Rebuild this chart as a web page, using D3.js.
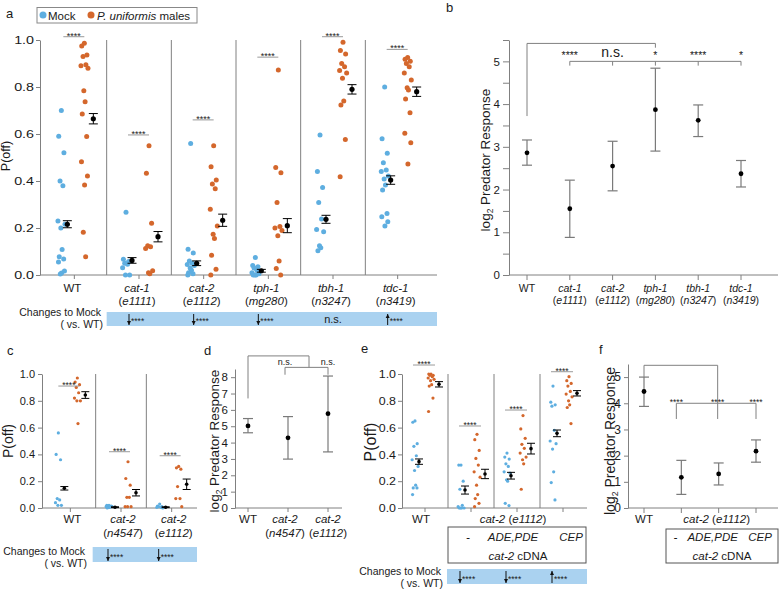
<!DOCTYPE html>
<html><head><meta charset="utf-8">
<script src="https://cdn.jsdelivr.net/npm/d3@7/dist/d3.min.js"></script>
<style>
html,body{margin:0;padding:0;background:#fff;}
svg{display:block;font-family:"Liberation Sans",Arial,Helvetica,sans-serif;}
</style></head><body>
<svg id="fig" width="780" height="591"></svg>
<script>
// ================= DATA =================
// ---- panel a : P(off) per genotype ----
const genesA   = ["WT","cat-1","cat-2","tph-1","tbh-1","tdc-1"];
const allelesA = ["","e1111","e1112","mg280","n3247","n3419"];
const mockA = [
  [0.70,0.59,0.52,0.40,0.38,0.23,0.216,0.20,0.108,0.078,0.068,0.055,0.017,0.009,0.004],
  [0.267,0.067,0.057,0.05,0.046,0.031,0.0,0.0],
  [0.56,0.11,0.094,0.06,0.05,0.045,0.04,0.03,0.02,0.01,0.005,0.0],
  [0.075,0.04,0.035,0.03,0.02,0.01,0.005,0.0,0.0,0.0],
  [0.596,0.44,0.372,0.309,0.238,0.194,0.184,0.125,0.116,0.103],
  [0.80,0.58,0.518,0.478,0.447,0.44,0.421,0.408,0.383,0.362,0.262,0.248,0.227,0.209]
];
const malesA = [
  [0.986,0.974,0.936,0.93,0.895,0.89,0.88,0.784,0.737,0.685,0.589,0.482,0.421,0.383,0.182,0.078],
  [0.55,0.433,0.22,0.125,0.12,0.113,0.018,0.01,0.005],
  [0.55,0.461,0.404,0.387,0.367,0.28,0.209,0.173,0.155,0.084,0.024,0.0],
  [0.872,0.457,0.435,0.308,0.206,0.2,0.189,0.167,0.06,0.028,0.0],
  [0.99,0.955,0.94,0.9,0.886,0.87,0.86,0.837,0.74,0.723,0.577,0.418],
  [0.926,0.918,0.91,0.9,0.886,0.86,0.83,0.797,0.787,0.749,0.69,0.603,0.563,0.472]
];
const mockMeanA = [0.216,0.062,0.05,0.018,0.237,0.404];
const mockSemA  = [0.015,0.012,0.01,0.006,0.017,0.018];
const maleMeanA = [0.665,0.163,0.233,0.21,0.79,0.78];
const maleSemA  = [0.022,0.022,0.026,0.03,0.02,0.02];
const sigYA     = [1.014,0.596,0.66,0.927,1.014,0.96];
const changeA   = ["","down","down","down","n.s.","up"];
const ticksP    = [0,0.2,0.4,0.6,0.8,1.0];

// ---- panel b : log2 predator response ----
const genesB   = ["WT","cat-1","cat-2","tph-1","tbh-1","tdc-1"];
const allelesB = ["","e1111","e1112","mg280","n3247","n3419"];
const meanB = [2.86,1.55,2.55,3.87,3.62,2.37];
const lowB  = [2.57,0.88,1.97,2.90,3.24,2.06];
const highB = [3.16,2.22,3.13,4.84,3.98,2.68];
const sigB  = ["","****","n.s.","*","****","*"];
const ticksB = [0,0.5,1,1.5,2,2.5,3,3.5,4,4.5,5,5.5];

// ---- panel c ----
const genesC   = ["WT","cat-2","cat-2"];
const allelesC = ["","n4547","e1112"];
const mockC = [
  [0.56,0.40,0.36,0.07,0.06,0.04,0.02,0.02],
  [0.02,0.02,0.015,0.015,0.01,0.01,0.01,0.005,0.005,0.0],
  [0.03,0.015,0.01,0.01,0.005,0.005,0.0]
];
const malesC = [
  [0.97,0.94,0.92,0.90,0.86,0.82,0.80,0.80,0.63],
  [0.345,0.22,0.17,0.08,0.08,0.01,0.01,0.01],
  [0.31,0.30,0.29,0.16,0.07,0.07,0.01]
];
const mockMeanC = [0.147,0.006,0.006];
const mockSemC  = [0.013,0.003,0.003];
const maleMeanC = [0.843,0.114,0.177];
const maleSemC  = [0.025,0.024,0.039];
const sigYC     = [0.91,0.42,0.39];
const changeC   = ["","down","down"];

// ---- panel d ----
const genesD   = ["WT","cat-2","cat-2"];
const allelesD = ["","n4547","e1112"];
const meanD = [5.02,4.29,5.77];
const lowD  = [4.60,2.99,3.43];
const highD = [5.47,5.59,8.07];
const ticksD = [0,1,2,3,4,5,6,7,8];

// ---- panel e ----
const rescueE = ["-","ADE,PDE","CEP"];
const mockE = [
  [0.65,0.64,0.48,0.46,0.39,0.36,0.31,0.28,0.17,0.15,0.15,0.10],
  [0.32,0.32,0.20,0.14,0.02,0.01,0.0,0.0,0.0,0.0],
  [0.41,0.38,0.365,0.33,0.31,0.27,0.26,0.21,0.20,0.035,0.018],
  [0.91,0.79,0.77,0.76,0.58,0.50,0.48,0.44,0.27,0.19,0.06]
];
const malesE = [
  [1.0,1.0,0.99,0.99,0.98,0.97,0.96,0.95,0.92,0.91,0.82,0.72],
  [0.55,0.51,0.43,0.37,0.32,0.27,0.23,0.17,0.10,0.07,0.035,0.01],
  [0.69,0.59,0.52,0.475,0.445,0.41,0.38,0.36,0.33,0.14],
  [0.98,0.95,0.93,0.91,0.87,0.85,0.83,0.80,0.77,0.75,0.63]
];
const mockMeanE = [0.346,0.134,0.241,0.557];
const mockSemE  = [0.02,0.03,0.025,0.025];
const maleMeanE = [0.923,0.254,0.443,0.856];
const maleSemE  = [0.02,0.035,0.04,0.02];
const sigYE     = [1.067,0.612,0.731,1.017];
const changeE   = ["","down","down","up"];

// ---- panel f ----
const meanF = [4.45,1.17,1.30,2.17];
const lowF  = [3.88,0.52,0.88,1.75];
const highF = [5.00,1.82,1.72,2.60];
const ticksF = [0,1,2,3,4,5];

// ================= STYLE =================
const BLUE="#5eaee0", ORANGE="#d4672c", BAND="#aad2f0", AXC="#808080", TXT="#1a1a1a", ERR="#7a7a7a", SIG="#9a9a9a";
const FONT='"Liberation Sans", Arial, Helvetica, sans-serif';
const JIT=[0,-1,1,-0.5,0.6,-1.3,1.4,-0.2,0.3,-0.8,0.9,-1.1,1.2,0.1,-0.4,0.5];
const svg = d3.select("#fig");

function txt(g,x,y,s,fs,anchor,style){
  return g.append("text").attr("x",x).attr("y",y).attr("font-size",fs).attr("fill",TXT)
    .attr("text-anchor",anchor||"start").attr("font-style",style||"normal").text(s);
}
function yAxis(g,y,x0,ticks,fmt,fs,tickLen,sx){
  const ax=g.append("g").attr("transform",`translate(${x0},0)`)
    .call(d3.axisLeft(y).tickValues(ticks).tickFormat(fmt).tickSize(tickLen).tickSizeOuter(0));
  ax.attr("font-family",FONT);
  ax.select(".domain").attr("stroke",AXC);
  ax.selectAll(".tick line").attr("stroke",AXC);
  const t=ax.selectAll(".tick text").attr("font-size",fs).attr("fill",TXT);
  if(sx){ t.attr("x",-(tickLen+2)/sx).attr("transform",`scale(${sx},1)`); }
  return ax;
}
function xBase(g,x0,x1,y0){
  g.append("line").attr("x1",x0).attr("x2",x1).attr("y1",y0).attr("y2",y0).attr("stroke",AXC);
}
function xTicks(g,xs,y0,len){
  g.append("g").selectAll("line").data(xs).join("line")
    .attr("x1",d=>d).attr("x2",d=>d).attr("y1",y0).attr("y2",y0+len).attr("stroke",AXC);
}
function geneLabel(g,x,y1,y2,gene,allele,fs){
  txt(g,x,y1,gene,fs,"middle",gene==="WT"?"normal":"italic");
  if(allele){
    const t=g.append("text").attr("x",x).attr("y",y2).attr("font-size",fs).attr("fill",TXT).attr("text-anchor","middle");
    t.append("tspan").text("(");
    t.append("tspan").attr("font-style","italic").text(allele);
    t.append("tspan").text(")");
  }
}
function rotLabel(g,x,y,fs,parts){
  const t=g.append("text").attr("transform",`translate(${x},${y}) rotate(-90)`)
    .attr("text-anchor","middle").attr("font-size",fs).attr("fill",TXT);
  parts(t,fs);
}
const pOff=(t)=>t.text("P(off)");
const logResp=(t,fs)=>{
  t.append("tspan").text("log");
  t.append("tspan").attr("font-size",fs*0.62).attr("dy",fs*0.22).text("2");
  t.append("tspan").attr("dy",-fs*0.22).text(" Predator Response");
};
function dotGroups(g,x,y,mocks,males,mM,mS,fM,fS,sigY,o){
  const c=i=>x(i)+x.bandwidth()/2;
  const dots=(sets,off,col)=>sets.forEach((arr,i)=>{
    g.append("g").selectAll("circle").data(arr).join("circle")
      .attr("cx",(d,j)=>c(i)+off+JIT[j%JIT.length]*o.j)
      .attr("cy",d=>y(d)).attr("r",o.r).attr("fill",col);
  });
  dots(mocks,o.mock,BLUE);
  dots(males,o.male,ORANGE);
  const means=(m,s,off)=>m.forEach((v,i)=>{
    const cx=c(i)+off, lo=y(Math.max(0,v-s[i])), hi=y(v+s[i]);
    g.append("line").attr("x1",cx).attr("x2",cx).attr("y1",lo).attr("y2",hi).attr("stroke","#000").attr("stroke-width",1);
    [lo,hi].forEach(yy=>g.append("line").attr("x1",cx-o.cap).attr("x2",cx+o.cap).attr("y1",yy).attr("y2",yy).attr("stroke","#000").attr("stroke-width",1));
    g.append("circle").attr("cx",cx).attr("cy",y(v)).attr("r",o.mr).attr("fill","#000");
  });
  means(mM,mS,o.mMean);
  means(fM,fS,o.fMean);
  sigY.forEach((v,i)=>{
    const yy=y(v);
    g.append("line").attr("x1",c(i)+o.sigL).attr("x2",c(i)+o.sigR).attr("y1",yy).attr("y2",yy).attr("stroke",SIG).attr("stroke-width",1);
    txt(g,c(i)+(o.sigL+o.sigR)/2,yy+1.8,"****",o.sf,"middle");
  });
  return c;
}
function changeBand(g,x0,x1,yTop,h,centers,dirs,labelX,labelY1,labelY2,off){
  g.append("rect").attr("x",x0).attr("y",yTop).attr("width",x1-x0).attr("height",h).attr("fill",BAND);
  txt(g,labelX,labelY1,"Changes to Mock",10.5,"end");
  txt(g,labelX+2,labelY2,"( vs. WT)",10.5,"end");
  dirs.forEach((d,i)=>{
    if(!d) return;
    const cx=centers[i];
    if(d==="n.s."){ txt(g,cx,yTop+h-3,"n.s.",11,"middle"); return; }
    const ax=cx+off, y1=yTop+2, y2=yTop+h-1;
    g.append("line").attr("x1",ax).attr("x2",ax).attr("y1",y1).attr("y2",y2).attr("stroke","#111").attr("stroke-width",1);
    const tip = d==="down"? y2 : y1, s = d==="down"? -1 : 1;
    g.append("path").attr("d",`M${ax-2},${tip+s*4}L${ax},${tip}L${ax+2},${tip+s*4}Z`).attr("fill","#111");
    txt(g,ax+2,yTop+h/2+5,"****",8.5,"start");
  });
}
function errPoints(g,xs,y,means,lows,highs,cap){
  means.forEach((m,i)=>{
    const cx=xs(i);
    g.append("line").attr("x1",cx).attr("x2",cx).attr("y1",y(lows[i])).attr("y2",y(highs[i])).attr("stroke",ERR).attr("stroke-width",1.2);
    [lows[i],highs[i]].forEach(v=>g.append("line").attr("x1",cx-cap).attr("x2",cx+cap).attr("y1",y(v)).attr("y2",y(v)).attr("stroke",ERR).attr("stroke-width",1.2));
    g.append("circle").attr("cx",cx).attr("cy",y(m)).attr("r",2.4).attr("fill","#000");
  });
}
function bracket(g,d){ g.append("path").attr("d",d).attr("fill","none").attr("stroke",AXC).attr("stroke-width",1); }

// ================= PANEL a =================
{
  const g=svg.append("g");
  const y=d3.scaleLinear().domain([0,1]).range([275,40]);
  const x=d3.scaleBand().domain(d3.range(genesA.length)).range([42,430]);
  const x0=40, xEnd=437;
  txt(g,6,18,"a",13);
  // legend
  g.append("rect").attr("x",37).attr("y",7.5).attr("width",160).attr("height",15.5).attr("fill","none").attr("stroke","#888");
  g.append("circle").attr("cx",43).attr("cy",15).attr("r",3.5).attr("fill",BLUE);
  txt(g,48,19.5,"Mock",11.5);
  g.append("circle").attr("cx",91).attr("cy",15).attr("r",3.5).attr("fill",ORANGE);
  const lt=g.append("text").attr("x",97).attr("y",19.5).attr("font-size",11.5).attr("fill",TXT);
  lt.append("tspan").attr("font-style","italic").text("P. uniformis");
  lt.append("tspan").text(" males");
  // dividers
  for(let i=1;i<genesA.length;i++) g.append("line").attr("x1",x(i)).attr("x2",x(i)).attr("y1",40).attr("y2",275).attr("stroke",AXC);
  yAxis(g,y,x0,ticksP,d3.format(".1f"),11,4,1.3);
  xBase(g,x0,xEnd,275);
  const centers=genesA.map((d,i)=>x(i)+x.bandwidth()/2);
  xTicks(g,centers,275,4);
  rotLabel(g,9.5,156,12.5,pOff);
  dotGroups(g,x,y,mockA,malesA,mockMeanA,mockSemA,maleMeanA,maleSemA,sigYA,
    {r:2.5,j:2.6,mock:-13,male:10,mMean:-7,fMean:19,cap:4.5,mr:2.6,sigL:-11,sigR:10,sf:9});
  genesA.forEach((gname,i)=>geneLabel(g,centers[i]-2,292,305,gname,allelesA[i],11.5));
  changeBand(g,x(1),xEnd,312,14,centers,changeA,101,315.5,327.5,-10);
}

// ================= PANEL b =================
{
  const g=svg.append("g");
  const y=d3.scaleLinear().domain([0,5.5]).range([275,40]);
  const x=d3.scalePoint().domain(d3.range(genesB.length)).range([527,741]);
  txt(g,446,12,"b",13);
  yAxis(g,y,509,ticksB,d=>Number.isInteger(d)?d:"",11.5,6);
  xBase(g,509,778,275);
  xTicks(g,genesB.map((d,i)=>x(i)),275,5);
  rotLabel(g,490,160,13.5,logResp);
  errPoints(g,x,y,meanB,lowB,highB,5);
  genesB.forEach((gname,i)=>geneLabel(g,x(i),292,304,gname,allelesB[i],10.5));
  // brackets
  bracket(g,`M${x(0)},${y(3.72)}V${y(5.42)}H${x(3)}V${y(5.32)}`);
  bracket(g,`M${x(1)},${y(4.9)}V${y(5.0)}H${x(5)}V${y(4.9)}`);
  [2,3,4].forEach(i=>bracket(g,`M${x(i)},${y(5.0)}V${y(4.9)}`));
  sigB.forEach((s,i)=>{
    if(!s) return;
    if(s==="n.s.") txt(g,x(i),57,s,14,"middle");
    else txt(g,x(i),59,s,10.5,"middle");
  });
}

// ================= PANEL c =================
{
  const g=svg.append("g");
  const y=d3.scaleLinear().domain([0,1]).range([508,374]);
  const x=d3.scaleBand().domain(d3.range(genesC.length)).range([45,197]);
  txt(g,7,355,"c",13);
  for(let i=1;i<genesC.length;i++) g.append("line").attr("x1",x(i)).attr("x2",x(i)).attr("y1",374).attr("y2",508).attr("stroke",AXC);
  yAxis(g,y,42,ticksP,d3.format(".1f"),11,4);
  xBase(g,42,197,508);
  const centers=genesC.map((d,i)=>x(i)+x.bandwidth()/2);
  xTicks(g,centers,508,4);
  rotLabel(g,12.5,441,14,pOff);
  dotGroups(g,x,y,mockC,malesC,mockMeanC,mockSemC,maleMeanC,maleSemC,sigYC,
    {r:1.6,j:2.2,mock:-12,male:7,mMean:-6,fMean:15,cap:4,mr:1.8,sigL:-12,sigR:9,sf:8.5});
  genesC.forEach((gname,i)=>geneLabel(g,centers[i]+2,523,537,gname,allelesC[i],11.5));
  changeBand(g,x(1)-3,197,547,15,centers,changeC,85,554.5,567,-13);
}

// ================= PANEL d =================
{
  const g=svg.append("g");
  const y=d3.scaleLinear().domain([0,8.5]).range([508,369]);
  const x=d3.scalePoint().domain(d3.range(genesD.length)).range([248,328]);
  txt(g,204,355,"d",13);
  yAxis(g,y,235,ticksD,d3.format("d"),11.5,4);
  xBase(g,235,342,508);
  xTicks(g,genesD.map((d,i)=>x(i)),508,4);
  rotLabel(g,219,441,13.5,logResp);
  errPoints(g,x,y,meanD,lowD,highD,5);
  genesD.forEach((gname,i)=>geneLabel(g,x(i)-(i===1?3:0),523,537,gname,allelesD[i],11.5));
  const xm=(x(1)+x(2))/2 + 1;
  bracket(g,`M${x(0)},${y(6.7)}V${y(9.3)}H${xm}V${y(8.6)}`);
  bracket(g,`M${x(1)-3},${y(8.15)}V${y(8.6)}H${x(2)}V${y(8.15)}`);
  txt(g,x(1)-3,y(8.6)-2.5,"n.s.",9,"middle");
  txt(g,x(2),y(8.6)-2.5,"n.s.",9,"middle");
}

// ================= PANEL e =================
{
  const g=svg.append("g");
  const y=d3.scaleLinear().domain([0,1]).range([508,374]);
  const x=d3.scaleBand().domain(d3.range(mockE.length)).range([402,586]);
  txt(g,361,353,"e",13);
  for(let i=1;i<mockE.length;i++) g.append("line").attr("x1",x(i)).attr("x2",x(i)).attr("y1",374).attr("y2",508).attr("stroke",AXC);
  yAxis(g,y,402,ticksP,d3.format(".1f"),11.5,4,1.08);
  xBase(g,402,587,508);
  const centers=mockE.map((d,i)=>x(i)+x.bandwidth()/2);
  xTicks(g,centers,508,4);
  rotLabel(g,376,442,16,pOff);
  dotGroups(g,x,y,mockE,malesE,mockMeanE,mockSemE,maleMeanE,maleSemE,sigYE,
    {r:1.6,j:2.2,mock:-10,male:6,mMean:-6,fMean:14,cap:4,mr:1.8,sigL:-12,sigR:10,sf:8.5});
  txt(g,centers[0]-4,523,"WT",11.5,"middle");
  const gx=(x(1)+586)/2-4;
  const lab=g.append("text").attr("x",gx).attr("y",523).attr("font-size",11.5).attr("fill",TXT).attr("text-anchor","middle");
  lab.append("tspan").attr("font-style","italic").text("cat-2");
  lab.append("tspan").text(" (");
  lab.append("tspan").attr("font-style","italic").text("e1112");
  lab.append("tspan").text(")");
  g.append("rect").attr("x",x(1)).attr("y",527).attr("width",586-x(1)).attr("height",36).attr("fill","none").attr("stroke","#555");
  rescueE.forEach((r,i)=>txt(g,centers[i+1]+(i===2?8:(i===0?-3:-4)),541,r,11.5,"middle","italic"));
  const cd=g.append("text").attr("x",gx+5).attr("y",560).attr("font-size",11.5).attr("fill",TXT).attr("text-anchor","middle");
  cd.append("tspan").attr("font-style","italic").text("cat-2");
  cd.append("tspan").text(" cDNA");
  changeBand(g,x(1)-1,587,569,15,centers,changeE,441,575,587,-11);
}

// ================= PANEL f =================
{
  const g=svg.append("g");
  const y=d3.scaleLinear().domain([0,5.5]).range([508,364]);
  const x=d3.scalePoint().domain(d3.range(meanF.length)).range([644,756]);
  txt(g,599,354,"f",13);
  yAxis(g,y,628,ticksF,d3.format("d"),12,4);
  xBase(g,628,778,508);
  xTicks(g,meanF.map((d,i)=>x(i)),508,5);
  rotLabel(g,615,441,14,logResp);
  errPoints(g,x,y,meanF,lowF,highF,5);
  txt(g,x(0),523,"WT",11.5,"middle");
  const lab=g.append("text").attr("x",x(2)-2).attr("y",523).attr("font-size",11.5).attr("fill",TXT).attr("text-anchor","middle");
  lab.append("tspan").attr("font-style","italic").text("cat-2");
  lab.append("tspan").text(" (");
  lab.append("tspan").attr("font-style","italic").text("e1112");
  lab.append("tspan").text(")");
  g.append("rect").attr("x",666).attr("y",529).attr("width",112).attr("height",34).attr("fill","none").attr("stroke","#555");
  txt(g,x(1)-6,541,"-",11.5,"middle","italic");
  txt(g,x(2)-6,541,"ADE,PDE",11.5,"middle","italic");
  txt(g,x(3)+4,541,"CEP",11.5,"middle","italic");
  const cd=g.append("text").attr("x",722).attr("y",560).attr("font-size",11.5).attr("fill",TXT).attr("text-anchor","middle");
  cd.append("tspan").attr("font-style","italic").text("cat-2");
  cd.append("tspan").text(" cDNA");
  // brackets
  bracket(g,`M${x(0)},${y(5.0)}V${y(5.45)}H${x(2)-1}V${y(4.0)}`);
  bracket(g,`M${x(1)-5},${y(3.4)}V${y(4.0)}H${x(3)}V${y(3.4)}`);
  bracket(g,`M${x(2)-1},${y(4.0)}V${y(3.4)}`);
  [x(1)-5,x(2)-1,x(3)].forEach(xx=>txt(g,xx,y(4.0)+1.5,"****",8.5,"middle"));
}
</script>
</body></html>
